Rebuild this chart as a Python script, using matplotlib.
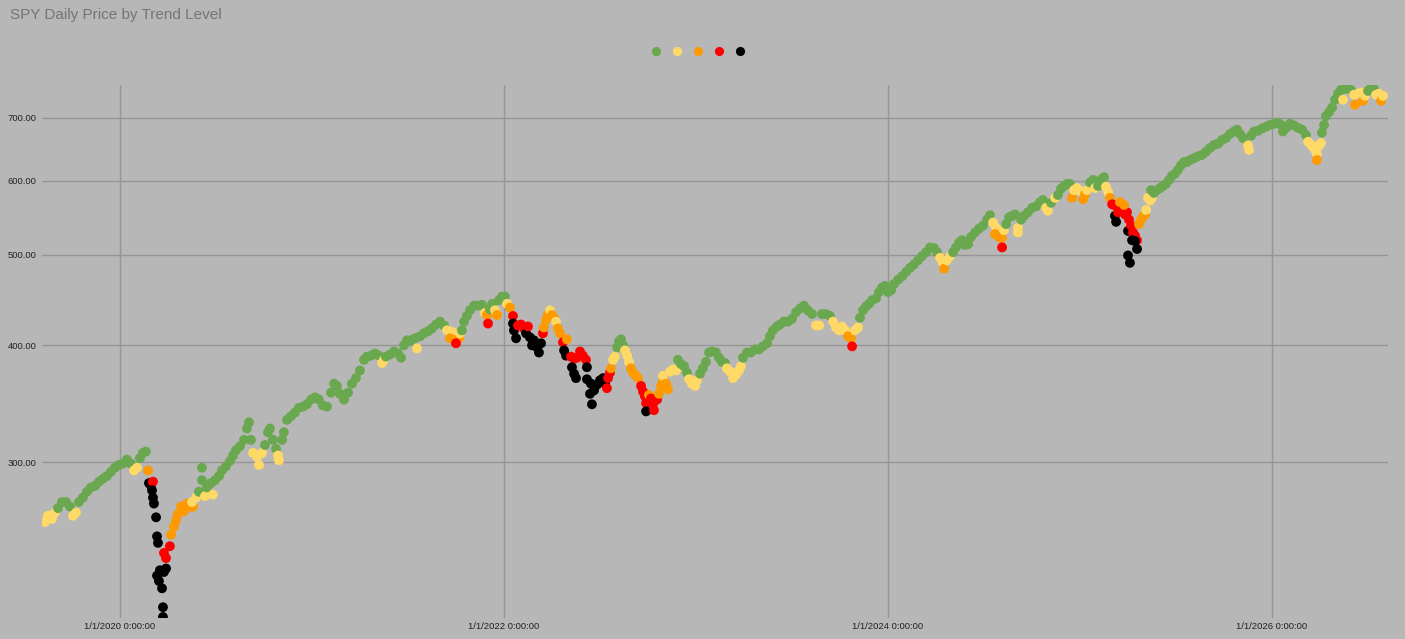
import matplotlib.pyplot as plt
from matplotlib.lines import Line2D
from matplotlib.ticker import NullLocator, NullFormatter

# trading dates as decimal years, SPY close and trend level (0 green .. 4 black)
years = [
    2019.609, 2019.625, 2019.646, 2019.661, 2019.677, 2019.698, 2019.719, 2019.740, 2019.755, 2019.771,
    2019.786, 2019.807, 2019.828, 2019.849, 2019.870, 2019.891, 2019.911, 2019.932, 2019.953, 2019.974,
    2019.995, 2020.016, 2020.036, 2020.057, 2020.073, 2020.089, 2020.104, 2020.120, 2020.135, 2020.146,
    2020.151, 2020.161, 2020.172, 2020.167, 2020.172, 2020.177, 2020.188, 2020.193, 2020.198, 2020.193,
    2020.203, 2020.208, 2020.219, 2020.229, 2020.240, 2020.224, 2020.224, 2020.229, 2020.240, 2020.260,
    2020.266, 2020.281, 2020.292, 2020.302, 2020.318, 2020.333, 2020.349, 2020.365, 2020.380, 2020.375,
    2020.396, 2020.411, 2020.427, 2020.427, 2020.443, 2020.453, 2020.474, 2020.484, 2020.495, 2020.516,
    2020.531, 2020.552, 2020.573, 2020.589, 2020.604, 2020.625, 2020.646, 2020.661, 2020.672, 2020.682,
    2020.693, 2020.714, 2020.724, 2020.740, 2020.755, 2020.771, 2020.781, 2020.797, 2020.813, 2020.823,
    2020.828, 2020.844, 2020.854, 2020.870, 2020.891, 2020.911, 2020.932, 2020.953, 2020.974, 2020.995,
    2021.016, 2021.036, 2021.057, 2021.078, 2021.099, 2021.115, 2021.130, 2021.146, 2021.167, 2021.188,
    2021.208, 2021.229, 2021.250, 2021.271, 2021.286, 2021.307, 2021.328, 2021.349, 2021.365, 2021.375,
    2021.385, 2021.406, 2021.427, 2021.448, 2021.464, 2021.479, 2021.495, 2021.516, 2021.536, 2021.547,
    2021.563, 2021.583, 2021.604, 2021.625, 2021.646, 2021.667, 2021.688, 2021.703, 2021.719, 2021.734,
    2021.719, 2021.745, 2021.766, 2021.750, 2021.771, 2021.781, 2021.792, 2021.807, 2021.823, 2021.844,
    2021.865, 2021.885, 2021.901, 2021.911, 2021.917, 2021.927, 2021.938, 2021.953, 2021.964, 2021.974,
    2021.990, 2022.005, 2022.016, 2022.031, 2022.047, 2022.047, 2022.052, 2022.063, 2022.073, 2022.089,
    2022.104, 2022.115, 2022.125, 2022.135, 2022.146, 2022.156, 2022.172, 2022.182, 2022.193, 2022.203,
    2022.208, 2022.219, 2022.229, 2022.240, 2022.250, 2022.260, 2022.271, 2022.281, 2022.292, 2022.307,
    2022.328, 2022.313, 2022.323, 2022.349, 2022.365, 2022.380, 2022.396, 2022.411, 2022.427, 2022.354,
    2022.365, 2022.375, 2022.432, 2022.432, 2022.453, 2022.448, 2022.458, 2022.469, 2022.484, 2022.500,
    2022.516, 2022.526, 2022.536, 2022.542, 2022.552, 2022.557, 2022.568, 2022.578, 2022.589, 2022.599,
    2022.609, 2022.620, 2022.630, 2022.641, 2022.651, 2022.661, 2022.672, 2022.688, 2022.698, 2022.714,
    2022.724, 2022.734, 2022.740, 2022.740, 2022.755, 2022.766, 2022.776, 2022.781, 2022.797, 2022.807,
    2022.818, 2022.828, 2022.828, 2022.844, 2022.854, 2022.865, 2022.880, 2022.896, 2022.906, 2022.922,
    2022.938, 2022.953, 2022.964, 2022.979, 2022.995, 2023.005, 2023.021, 2023.036, 2023.052, 2023.068,
    2023.083, 2023.104, 2023.120, 2023.135, 2023.151, 2023.161, 2023.177, 2023.193, 2023.208, 2023.224,
    2023.234, 2023.245, 2023.266, 2023.286, 2023.307, 2023.328, 2023.349, 2023.370, 2023.385, 2023.401,
    2023.422, 2023.438, 2023.458, 2023.479, 2023.500, 2023.521, 2023.542, 2023.563, 2023.583, 2023.604,
    2023.625, 2023.641, 2023.656, 2023.677, 2023.698, 2023.714, 2023.729, 2023.745, 2023.760, 2023.776,
    2023.792, 2023.807, 2023.813, 2023.828, 2023.844, 2023.854, 2023.870, 2023.885, 2023.901, 2023.917,
    2023.938, 2023.953, 2023.969, 2023.984, 2024.000, 2024.016, 2024.031, 2024.052, 2024.073, 2024.094,
    2024.115, 2024.135, 2024.156, 2024.177, 2024.198, 2024.219, 2024.240, 2024.255, 2024.271, 2024.286,
    2024.292, 2024.307, 2024.323, 2024.339, 2024.354, 2024.370, 2024.385, 2024.401, 2024.417, 2024.432,
    2024.453, 2024.474, 2024.495, 2024.516, 2024.531, 2024.547, 2024.563, 2024.557, 2024.578, 2024.594,
    2024.594, 2024.604, 2024.615, 2024.630, 2024.646, 2024.661, 2024.677, 2024.677, 2024.693, 2024.708,
    2024.729, 2024.750, 2024.771, 2024.792, 2024.807, 2024.823, 2024.833, 2024.849, 2024.870, 2024.885,
    2024.901, 2024.917, 2024.932, 2024.948, 2024.958, 2024.969, 2024.984, 2025.000, 2025.016, 2025.026,
    2025.036, 2025.052, 2025.068, 2025.078, 2025.094, 2025.109, 2025.125, 2025.135, 2025.146, 2025.156,
    2025.167, 2025.177, 2025.182, 2025.188, 2025.198, 2025.214, 2025.208, 2025.224, 2025.234, 2025.245,
    2025.229, 2025.255, 2025.250, 2025.266, 2025.276, 2025.286, 2025.297, 2025.271, 2025.286, 2025.297,
    2025.250, 2025.260, 2025.307, 2025.318, 2025.328, 2025.339, 2025.344, 2025.354, 2025.365, 2025.375,
    2025.370, 2025.385, 2025.401, 2025.417, 2025.432, 2025.448, 2025.464, 2025.479, 2025.495, 2025.510,
    2025.526, 2025.542, 2025.557, 2025.573, 2025.594, 2025.615, 2025.635, 2025.656, 2025.677, 2025.698,
    2025.719, 2025.740, 2025.760, 2025.781, 2025.802, 2025.818, 2025.833, 2025.849, 2025.875, 2025.880,
    2025.891, 2025.906, 2025.927, 2025.948, 2025.969, 2025.990, 2026.010, 2026.031, 2026.047, 2026.057,
    2026.073, 2026.094, 2026.115, 2026.135, 2026.156, 2026.177, 2026.188, 2026.203, 2026.214, 2026.224,
    2026.234, 2026.234, 2026.245, 2026.255, 2026.260, 2026.271, 2026.281, 2026.297, 2026.313, 2026.328,
    2026.344, 2026.359, 2026.370, 2026.380, 2026.396, 2026.411, 2026.427, 2026.432, 2026.448, 2026.464,
    2026.474, 2026.484, 2026.500, 2026.516, 2026.531, 2026.542, 2026.557, 2026.568, 2026.578,
]

price = [
    259, 263, 261, 265, 268, 272, 272, 269, 263, 265,
    272, 275, 279, 282, 283, 286, 288, 290, 293, 296,
    298, 299, 302, 299, 294, 296, 303, 307, 308, 294,
    285, 283.5, 286, 280, 275, 271, 262, 250, 246, 227,
    224, 230, 220, 229, 231, 210, 205, 240, 237, 244,
    251, 256, 260, 264, 269, 266, 271, 269, 269, 272,
    275, 279, 296, 287, 276, 282, 285, 277, 287, 290,
    294, 297, 301, 305, 309, 312, 317, 326, 331, 317,
    307, 304, 298, 307, 313, 323, 326, 317, 310, 305,
    301.5, 317, 323, 333, 336, 339, 343, 344, 346, 350,
    352, 350, 345, 344, 356, 364, 362, 355, 350, 356,
    364, 369, 376, 386, 389, 390, 392, 390, 383, 386,
    389, 391, 394, 392, 388, 400, 405, 405, 407, 397,
    409, 412, 414, 417, 421, 424, 420, 415, 414, 413,
    407, 405, 407, 402, 412, 415, 424, 430, 436, 441,
    441, 442, 433, 431, 422, 437, 443, 436, 431, 447,
    451, 451, 443, 439, 430, 422, 415, 407, 420, 421,
    417, 412, 419, 408, 400, 405, 398, 393, 402, 412,
    418, 426, 432, 436, 431, 428, 424, 417, 412, 403,
    406, 395, 390, 389, 387, 388, 394, 390, 386, 379,
    373, 369, 379, 368, 364, 355, 346, 358, 363, 367,
    369, 364, 360, 369, 374, 378, 386, 389, 398, 404,
    406, 400, 395, 390, 384, 378, 374, 371, 369, 362,
    357, 353, 347, 340, 354, 351, 346, 341, 350, 355,
    362, 367, 371, 364, 359, 375, 377, 376, 386, 382,
    380, 374, 368, 364, 362, 367, 373, 378, 384, 393,
    394, 393, 388, 384, 383, 378, 375, 369, 372, 376,
    380, 388, 393, 393, 396, 396, 399, 402, 409, 415,
    419, 421, 424, 424, 427, 434, 438, 441, 436, 432,
    420, 420, 432, 432, 430, 424, 418, 415, 419, 415,
    409, 407, 399, 415, 418, 428, 436, 440, 443, 447,
    449, 456, 461, 463, 456, 458, 465, 470, 474, 479,
    484, 488, 493, 498, 503, 509, 508, 503, 496, 490,
    483, 493, 498, 503, 509, 515, 518, 512, 513, 522,
    528, 533, 537, 545, 551, 541, 534, 526, 522, 521,
    509, 531, 539, 548, 550, 552, 534, 528, 545, 550,
    555, 561, 563, 569, 572, 561, 557, 568, 575, 579,
    588, 592, 595, 595, 575, 586, 589, 585, 573, 580,
    586, 597, 601, 589, 592, 601, 605, 591, 583, 575,
    566, 565, 550, 542, 555, 561, 569, 558, 552, 555,
    565, 545, 530, 537, 528, 524, 518, 518, 517, 507,
    499, 490, 539, 545, 549, 552, 558, 575, 571, 575,
    586, 582, 586, 589, 592, 595, 601, 607, 610, 616,
    623, 628, 628, 631, 634, 637, 639, 644, 650, 655,
    657, 663, 666, 673, 677, 680, 673, 666, 654, 647,
    670, 677, 678, 682, 685, 688, 690, 692, 688, 677,
    683, 690, 687, 683, 680, 671, 660, 655, 652, 647,
    641, 631, 654, 658, 675, 688, 703, 710, 718, 732,
    743, 750, 732, 752, 754, 750, 741, 723, 743, 745,
    730, 739, 748, 754, 752, 741, 743, 730, 739,
]

trend = [
    1, 1, 1, 1, 0, 0, 0, 0, 1, 1,
    0, 0, 0, 0, 0, 0, 0, 0, 0, 0,
    0, 0, 0, 0, 1, 1, 0, 0, 0, 2,
    4, 4, 3, 4, 4, 4, 4, 4, 4, 4,
    4, 4, 4, 4, 4, 4, 4, 3, 3, 3,
    2, 2, 2, 2, 2, 2, 2, 2, 2, 1,
    1, 0, 0, 0, 1, 0, 0, 1, 0, 0,
    0, 0, 0, 0, 0, 0, 0, 0, 0, 0,
    1, 1, 1, 1, 0, 0, 0, 0, 0, 1,
    1, 0, 0, 0, 0, 0, 0, 0, 0, 0,
    0, 0, 0, 0, 0, 0, 0, 0, 0, 0,
    0, 0, 0, 0, 0, 0, 0, 0, 1, 1,
    0, 0, 0, 0, 0, 0, 0, 0, 0, 1,
    0, 0, 0, 0, 0, 0, 0, 1, 1, 1,
    2, 2, 2, 3, 1, 0, 0, 0, 0, 0,
    0, 0, 1, 2, 3, 0, 0, 1, 2, 0,
    0, 0, 1, 2, 3, 4, 4, 4, 3, 3,
    3, 4, 3, 4, 4, 4, 4, 4, 4, 3,
    2, 2, 2, 1, 2, 2, 1, 2, 2, 3,
    2, 4, 4, 3, 3, 3, 3, 3, 3, 4,
    4, 4, 4, 4, 4, 4, 4, 4, 4, 4,
    4, 4, 3, 3, 3, 2, 1, 1, 0, 0,
    0, 0, 1, 1, 1, 2, 2, 2, 2, 3,
    3, 3, 3, 4, 2, 3, 3, 3, 3, 2,
    2, 2, 1, 2, 2, 1, 1, 1, 0, 0,
    0, 0, 1, 1, 1, 1, 0, 0, 0, 0,
    0, 0, 0, 0, 0, 1, 1, 1, 1, 1,
    1, 0, 0, 0, 0, 0, 0, 0, 0, 0,
    0, 0, 0, 0, 0, 0, 0, 0, 0, 0,
    1, 1, 0, 0, 0, 1, 1, 1, 1, 1,
    2, 2, 3, 1, 1, 0, 0, 0, 0, 0,
    0, 0, 0, 0, 0, 0, 0, 0, 0, 0,
    0, 0, 0, 0, 0, 0, 0, 0, 1, 1,
    2, 1, 1, 0, 0, 0, 0, 0, 0, 0,
    0, 0, 0, 0, 0, 1, 1, 2, 2, 2,
    3, 1, 0, 0, 0, 0, 1, 1, 0, 0,
    0, 0, 0, 0, 0, 1, 1, 0, 1, 0,
    0, 0, 0, 0, 2, 1, 1, 1, 2, 2,
    1, 0, 0, 1, 0, 0, 0, 1, 1, 2,
    3, 3, 4, 4, 3, 3, 2, 3, 3, 3,
    2, 3, 4, 3, 3, 3, 3, 4, 4, 4,
    4, 4, 2, 2, 2, 2, 1, 1, 1, 1,
    0, 0, 0, 0, 0, 0, 0, 0, 0, 0,
    0, 0, 0, 0, 0, 0, 0, 0, 0, 0,
    0, 0, 0, 0, 0, 0, 0, 0, 1, 1,
    0, 0, 0, 0, 0, 0, 0, 0, 0, 0,
    0, 0, 0, 0, 0, 0, 1, 1, 1, 1,
    1, 2, 1, 1, 0, 0, 0, 0, 0, 0,
    0, 0, 1, 0, 0, 0, 1, 2, 1, 1,
    2, 1, 0, 0, 0, 1, 1, 2, 1,
]

level_colors = ['#6aa84f', '#ffd966', '#ff9900', '#ff0000', '#000000']
tick_years = [2020, 2022, 2024, 2026]
tick_labels = ['1/1/2020 0:00:00', '1/1/2022 0:00:00', '1/1/2024 0:00:00', '1/1/2026 0:00:00']
price_ticks = [300, 400, 500, 600, 700]

bg = '#b7b7b7'
plt.rcParams['font.family'] = ['Liberation Sans', 'DejaVu Sans']

fig = plt.figure(figsize=(14.05, 6.39), dpi=100, facecolor=bg)
ax = fig.add_axes([42 / 1405, 21 / 639, 1346 / 1405, 533 / 639])
ax.set_facecolor(bg)

ax.scatter(years, price, c=[level_colors[t] for t in trend], s=50, linewidths=0, zorder=3)

ax.set_yscale('log')
ax.set_xlim(2019.594, 2026.604)
ax.set_ylim(204.5, 759)
ax.set_yticks(price_ticks)
ax.set_yticklabels([f'{p:.2f}' for p in price_ticks])
ax.yaxis.set_minor_locator(NullLocator())
ax.yaxis.set_minor_formatter(NullFormatter())
ax.set_xticks(tick_years)
ax.set_xticklabels(tick_labels)
ax.grid(True, color='#959595', linewidth=1, zorder=0)
ax.set_axisbelow(True)
for s in ax.spines.values():
    s.set_visible(False)
ax.tick_params(length=0, labelsize=6.8, labelcolor='#222222')
ax.tick_params(axis='y', pad=4)
ax.tick_params(axis='x', pad=3)

fig.text(10 / 1405, 1 - 15.5 / 639, 'SPY Daily Price by Trend Level', fontsize=11,
         color='#757575', va='center', ha='left')

handles = [Line2D([], [], marker='o', linestyle='', markersize=6.6, markerfacecolor=c,
                  markeredgewidth=0) for c in level_colors]
fig.legend(handles, [''] * 5, loc='center', bbox_to_anchor=(698 / 1405, 1 - 52 / 639),
           ncol=5, frameon=False, handlelength=0.8, handletextpad=0, columnspacing=0.71,
           borderpad=0, fontsize=10)

fig.savefig('out.png', dpi=100, facecolor=bg)
